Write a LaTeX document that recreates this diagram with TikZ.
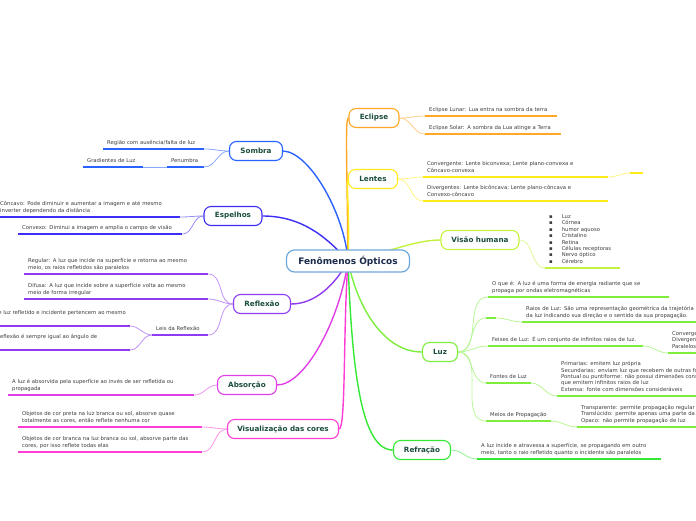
\documentclass[tikz,border=0pt]{standalone}
\usepackage{fontspec}
\setmainfont{DejaVu Sans}
\usetikzlibrary{positioning, backgrounds}
\usepackage{xcolor}
\definecolor{MapRoot}{HTML}{6FA8DC}
\definecolor{MapRootText}{HTML}{1A2A4A}
\definecolor{MapTopicText}{HTML}{1B4D3E}
\definecolor{MapLeafText}{HTML}{3C3C3C}
\definecolor{MapEclipse}{HTML}{FFA726}
\definecolor{MapLentes}{HTML}{FFEB1A}
\definecolor{MapVisao}{HTML}{C3F23F}
\definecolor{MapLuz}{HTML}{7DEE3E}
\definecolor{MapRefracao}{HTML}{35E835}
\definecolor{MapSombra}{HTML}{2962FF}
\definecolor{MapEspelhos}{HTML}{3D2EF5}
\definecolor{MapReflexao}{HTML}{8F3BF0}
\definecolor{MapAbsorcao}{HTML}{E13FE6}
\definecolor{MapCores}{HTML}{FF3DD4}
\tikzset{
    % Central idea
    central/.style={
        rectangle,
        rounded corners=8pt,
        draw=MapRoot,
        fill=white,
        line width=1.2pt,
        minimum width=123pt,
        minimum height=22pt,
        text=MapRootText,
        font=\bfseries\fontsize{9}{11}\selectfont
    },
    % Main topics - rounded boxes
    topic/.style={
        rectangle,
        rounded corners=7pt,
        draw=#1,
        fill=white,
        line width=1.1pt,
        minimum height=19pt,
        text=MapTopicText,
        font=\bfseries\fontsize{7.2}{9}\selectfont
    },
    % Leaf texts sitting on their underline
    leaf/.style={
        anchor=south west,
        align=left,
        inner xsep=4pt,
        inner ysep=2.6pt,
        execute at end node=\strut,
        text=MapLeafText,
        font=\fontsize{5.3}{6.4}\selectfont
    },
    % Lines
    branch/.style={draw=#1, line width=1.4pt},
    twig/.style={draw=#1!55, line width=0.8pt},
    underline/.style={draw=#1, line width=1.8pt}
}
\begin{document}
\begin{tikzpicture}[x=1pt, y=-1pt]
    \useasboundingbox (0,0) rectangle (696,520);

    \node[central] (root) at (348,261) {Fenômenos Ópticos};

    % Right side topics
    \node[topic=MapEclipse, minimum width=50pt] (eclipse) at (374,118) {Eclipse};
    \node[topic=MapLentes, minimum width=49pt] (lentes) at (373,179) {Lentes};
    \node[topic=MapVisao, minimum width=78pt] (visao) at (480,240) {Visão humana};
    \node[topic=MapLuz, minimum width=35pt] (luz) at (440,352) {Luz};
    \node[topic=MapRefracao, minimum width=57pt] (refracao) at (422,450) {Refração};

    % Left side topics
    \node[topic=MapSombra, minimum width=53pt] (sombra) at (256,151) {Sombra};
    \node[topic=MapEspelhos, minimum width=58pt] (espelhos) at (233,216) {Espelhos};
    \node[topic=MapReflexao, minimum width=57pt] (reflexao) at (262,304) {Reflexão};
    \node[topic=MapAbsorcao, minimum width=59pt] (absorcao) at (247,385) {Absorção};
    \node[topic=MapCores, minimum width=111pt] (cores) at (283,429) {Visualização das cores};

    % Eclipse
    \node[leaf, text width=124pt] (ecl1) at (425,116) {Eclipse Lunar: Lua entra na sombra da terra};
    \node[leaf, text width=128pt] (ecl2) at (425,134) {Eclipse Solar: A sombra da Lua atinge a Terra};

    % Lentes
    \node[leaf, text width=177pt] (len1) at (423,177) {Convergente: Lente biconvexa; Lente plano-convexa e\\Côncavo-convexa};
    \node[leaf, text width=5pt] (len1a) at (630,173) {};
    \node[leaf, text width=177pt] (len2) at (423,201) {Divergentes: Lente bicôncava; Lente plano-côncava e\\Convexo-côncavo};

    % Visao humana
    \node[leaf, text width=67pt] (vis1) at (545,268) {▪\hspace{9pt}Luz\\▪\hspace{9pt}Córnea\\▪\hspace{9pt}humor aquoso\\▪\hspace{9pt}Cristalino\\▪\hspace{9pt}Retina\\▪\hspace{9pt}Células receptoras\\▪\hspace{9pt}Nervo óptico\\▪\hspace{9pt}Cérebro};

    % Luz
    \node[leaf, text width=173pt] (luz1) at (488,297) {O que é: A luz é uma forma de energia radiante que se\\propaga por ondas eletromagnéticas};
    \node[leaf, text width=2pt] (luz2) at (486,318) {};
    \node[leaf, text width=200pt] (luz2a) at (522,322) {Raios de Luz: São uma representação geométrica da trajetória\\da luz indicando sua direção e o sentido da sua propagação.};
    \node[leaf, text width=147pt] (luz3) at (488,346) {Feixes de Luz: É um conjunto de infinitos raios de luz.};
    \node[leaf, text width=60pt] (luz3a) at (668,353) {Convergentes\\Divergentes\\Paralelos};
    \node[leaf] (luz4) at (486,383) {Fontes de Luz};
    \node[leaf, text width=200pt] (luz4a) at (557,396) {Primarias: emitem luz própria\\Secundarias: enviam luz que recebem de outras fontes\\Pontual ou puntiforme: não possui dimensões consideráveis\\que emitem infinitos raios de luz\\Extensa: fonte com dimensões consideráveis};
    \node[leaf] (luz5) at (486,421) {Meios de Propagação};
    \node[leaf, text width=200pt] (luz5a) at (577,427) {Transparente: permite propagação regular da luz\\Translúcido: permite apenas uma parte da luz\\Opaco: não permite propagação de luz};

    % Refracao
    \node[leaf, text width=176pt] (ref1) at (477,459) {A luz incide e atravessa a superfície, se propagando em outro\\meio, tanto o raio refletido quanto o incidente são paralelos};

    % Sombra
    \node[leaf, text width=93pt] (sb1) at (103,149) {Região com ausência/falta de luz};
    \node[leaf, text width=29pt] (sb2) at (167,167) {Penumbra};
    \node[leaf, text width=52pt] (sb2a) at (83,167) {Gradientes de Luz};

    % Espelhos
    \node[leaf, text width=176pt] (esp1) at (-4,217) {Côncavo: Pode diminuir e aumentar a imagem e até mesmo\\inverter dependendo da distância};
    \node[leaf, text width=156pt] (esp2) at (18,234) {Convexo: Diminui a imagem e amplia o campo de visão};

    % Reflexao
    \node[leaf, text width=176pt] (rfx1) at (24,274) {Regular: A luz que incide na superfície e retorna ao mesmo\\meio, os raios refletidos são paralelos};
    \node[leaf, text width=176pt] (rfx2) at (24,299) {Difusa: A luz que incide sobre a superfície  volta ao mesmo\\meio de forma irregular};
    \node[leaf, text width=48pt] (rfx3) at (152,335) {Leis da Reflexão};
    \node[leaf, anchor=south east] (rfx3a) at (130,326) {O raio de luz refletido e incidente pertencem ao mesmo\\plano};
    \node[leaf, anchor=south east, text width=162pt] (rfx3b) at (130,350) {O ângulo de reflexão é sempre igual ao ângulo de\\incidência};

    % Absorcao
    \node[leaf, text width=178pt] (abs1) at (8,395) {A luz é absorvida pela superfície ao invés de ser refletida ou\\propagada};

    % Visualizacao das cores
    \node[leaf, text width=176pt] (vc1) at (18,427) {Objetos de cor preta na luz branca ou sol, absorve quase\\totalmente as cores, então reflete nenhuma cor};
    \node[leaf, text width=176pt] (vc2) at (18,452) {Objetos de cor branca na luz branca ou sol, absorve parte das\\cores, por isso reflete todas elas};

    \begin{scope}[on background layer]
        % Branches from the central idea
        \draw[branch=MapEclipse] (root.center) .. controls (347,160) and (345,118) .. (eclipse.west);
        \draw[branch=MapLentes] (root.center) .. controls (350,215) and (346,179) .. (lentes.west);
        \draw[branch=MapVisao] (root.center) .. controls (390,252) and (415,240) .. (visao.west);
        \draw[branch=MapLuz] (root.center) .. controls (358,310) and (385,352) .. (luz.west);
        \draw[branch=MapRefracao] (root.center) .. controls (352,375) and (362,450) .. (refracao.west);
        \draw[branch=MapSombra] (root.center) .. controls (345,215) and (310,152) .. (sombra.east);
        \draw[branch=MapEspelhos] (root.center) .. controls (325,235) and (300,216) .. (espelhos.east);
        \draw[branch=MapReflexao] (root.center) .. controls (335,285) and (315,304) .. (reflexao.east);
        \draw[branch=MapAbsorcao] (root.center) .. controls (340,320) and (305,385) .. (absorcao.east);
        \draw[branch=MapCores] (root.center) .. controls (343,330) and (346,429) .. (cores.east);

        % Twigs to the leaves
        \draw[twig=MapEclipse] (eclipse.east) to[out=0,in=180] (ecl1.south west);
        \draw[twig=MapEclipse] (eclipse.east) to[out=0,in=180] (ecl2.south west);
        \draw[twig=MapLentes] (lentes.east) to[out=0,in=180] (len1.south west);
        \draw[twig=MapLentes] (lentes.east) to[out=0,in=180] (len2.south west);
        \draw[twig=MapLentes] (len1.south east) to[out=0,in=180] (len1a.south west);
        \draw[twig=MapVisao] (visao.east) to[out=0,in=180] (vis1.south west);
        \foreach \n in {luz1,luz2,luz3,luz4,luz5}
            \draw[twig=MapLuz] (luz.east) to[out=0,in=180] (\n.south west);
        \draw[twig=MapLuz] (luz2.south east) to[out=0,in=180] (luz2a.south west);
        \draw[twig=MapLuz] (luz3.south east) to[out=0,in=180] (luz3a.south west);
        \draw[twig=MapLuz] (luz4.south east) to[out=0,in=180] (luz4a.south west);
        \draw[twig=MapLuz] (luz5.south east) to[out=0,in=180] (luz5a.south west);
        \draw[twig=MapRefracao] (refracao.east) to[out=0,in=180] (ref1.south west);
        \draw[twig=MapSombra] (sombra.west) to[out=180,in=0] (sb1.south east);
        \draw[twig=MapSombra] (sombra.west) to[out=180,in=0] (sb2.south east);
        \draw[twig=MapSombra] (sb2.south west) -- (sb2a.south east);
        \draw[twig=MapEspelhos] (espelhos.west) to[out=180,in=0] (esp1.south east);
        \draw[twig=MapEspelhos] (espelhos.west) to[out=180,in=0] (esp2.south east);
        \foreach \n in {rfx1,rfx2,rfx3}
            \draw[twig=MapReflexao] (reflexao.west) to[out=180,in=0] (\n.south east);
        \draw[twig=MapReflexao] (rfx3.south west) to[out=180,in=0] (rfx3a.south east);
        \draw[twig=MapReflexao] (rfx3.south west) to[out=180,in=0] (rfx3b.south east);
        \draw[twig=MapAbsorcao] (absorcao.west) to[out=180,in=0] (abs1.south east);
        \draw[twig=MapCores] (cores.west) to[out=180,in=0] (vc1.south east);
        \draw[twig=MapCores] (cores.west) to[out=180,in=0] (vc2.south east);
    \end{scope}

    % Underlines
    \foreach \n in {ecl1,ecl2}
        \draw[underline=MapEclipse] (\n.south west) -- (\n.south east);
    \foreach \n in {len1,len1a,len2}
        \draw[underline=MapLentes] (\n.south west) -- (\n.south east);
    \draw[underline=MapVisao] (vis1.south west) -- (vis1.south east);
    \foreach \n in {luz1,luz2,luz2a,luz3,luz3a,luz4,luz4a,luz5,luz5a}
        \draw[underline=MapLuz] (\n.south west) -- (\n.south east);
    \draw[underline=MapRefracao] (ref1.south west) -- (ref1.south east);
    \foreach \n in {sb1,sb2,sb2a}
        \draw[underline=MapSombra] (\n.south west) -- (\n.south east);
    \foreach \n in {esp1,esp2}
        \draw[underline=MapEspelhos] (\n.south west) -- (\n.south east);
    \foreach \n in {rfx1,rfx2,rfx3,rfx3a,rfx3b}
        \draw[underline=MapReflexao] (\n.south west) -- (\n.south east);
    \draw[underline=MapAbsorcao] (abs1.south west) -- (abs1.south east);
    \foreach \n in {vc1,vc2}
        \draw[underline=MapCores] (\n.south west) -- (\n.south east);
\end{tikzpicture}
\end{document}
